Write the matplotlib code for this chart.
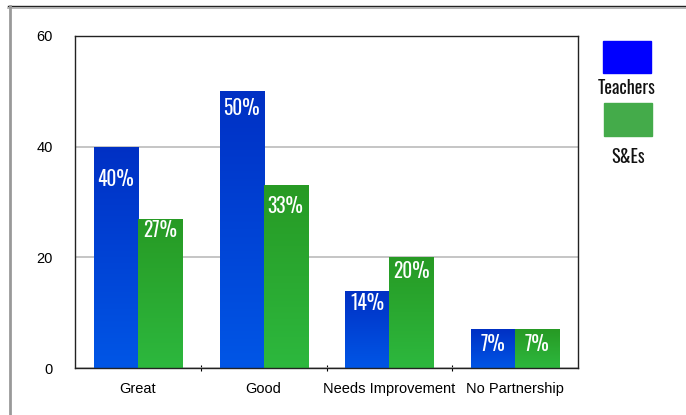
import numpy as np
import matplotlib
matplotlib.use("Agg")
import matplotlib.pyplot as plt
from matplotlib.patches import Rectangle
from matplotlib.lines import Line2D
from matplotlib.colors import LinearSegmentedColormap

categories = ["Great", "Good", "Needs Improvement", "No Partnership"]
teachers = [40, 50, 14, 7]
ses = [27, 33, 20, 7]
series_names = ["Teachers", "S&Es"]
yticks = [0, 20, 40, 60]

W, H = 686, 415
fig = plt.figure(figsize=(W / 100, H / 100), dpi=100)
fig.patch.set_facecolor("white")
ax = fig.add_axes([75 / W, 1 - 368 / H, (578 - 75) / W, (368 - 36) / H])

x = np.arange(len(categories))
bw = 0.35
b1 = ax.bar(x - bw / 2, teachers, bw, color="#0040d8", zorder=2)
b2 = ax.bar(x + bw / 2, ses, bw, color="#2aa830", zorder=2)

cmap_blue = LinearSegmentedColormap.from_list("b", ["#0030c4", "#0056e6"])
cmap_green = LinearSegmentedColormap.from_list("g", ["#279a24", "#2db83e"])
grad = np.linspace(0, 1, 256).reshape(-1, 1)
for bars, cm in ((b1, cmap_blue), (b2, cmap_green)):
    for r in bars:
        x0, y0 = r.get_x(), r.get_y()
        w, h = r.get_width(), r.get_height()
        im = ax.imshow(grad, cmap=cm, aspect="auto", origin="upper",
                       extent=[x0, x0 + w, y0, y0 + h], zorder=2.5)
        im.set_clip_path(r)

ax.set_xlim(-0.5, len(categories) - 0.5)
ax.set_ylim(0, 60)

# value labels (offsets below bar top in points)
lbl_font = ["Oswald", "Barlow Condensed", "DejaVu Sans"]
off_t = [23, 12, 9, 10.5]
off_s = [8, 15, 10, 10.5]
for bars, vals, offs in ((b1, teachers, off_t), (b2, ses, off_s)):
    for r, v, o in zip(bars, vals, offs):
        ax.annotate(f"{v}%", (r.get_x() + r.get_width() / 2, r.get_height()),
                    xytext=(0, -o), textcoords="offset points",
                    ha="center", va="center", color="white", fontsize=14,
                    family=lbl_font, fontweight=400, zorder=5)

ax.set_yticks(yticks)
ax.set_yticklabels([str(t) for t in yticks], fontsize=10.5, family="Liberation Sans")
ax.tick_params(axis="y", length=0, pad=16)
ax.set_xticks(x)
ax.set_xticklabels(categories, fontsize=10.5, family="Liberation Sans")
ax.tick_params(axis="x", length=0, pad=10)
ax.set_xticks(np.arange(len(categories) - 1) + 0.5, minor=True)
ax.tick_params(axis="x", which="minor", length=4, direction="inout", width=0.8)
ax.yaxis.grid(True, color="#bbbbbb", linewidth=1.2, zorder=0)
ax.set_axisbelow(True)
for s in ax.spines.values():
    s.set_color("#222222")
    s.set_linewidth(1.0)

# legend drawn manually
fig.patches.append(Rectangle((603 / W, 1 - 73 / H), 48 / W, 32 / H,
                             transform=fig.transFigure, color="#0000ff"))
fig.patches.append(Rectangle((604 / W, 1 - 136 / H), 48 / W, 33 / H,
                             transform=fig.transFigure, color="#44ab4a"))
fig.text(627 / W, 1 - 88 / H, series_names[0], ha="center", va="center",
         fontsize=13, family=lbl_font, fontweight=400, color="#111111")
fig.text(628 / W, 1 - 157 / H, series_names[1], ha="center", va="center",
         fontsize=13, family=lbl_font, fontweight=400, color="#111111")

# outer frame lines
fig.add_artist(Line2D([8 / W, 1], [1 - 6 / H, 1 - 6 / H], transform=fig.transFigure,
                      color="#222222", linewidth=1.0))
fig.add_artist(Line2D([8 / W, 1], [1 - 8.5 / H, 1 - 8.5 / H], transform=fig.transFigure,
                      color="#aaaaaa", linewidth=1.2))
fig.add_artist(Line2D([10 / W, 10 / W], [0, 1 - 6 / H], transform=fig.transFigure,
                      color="#999999", linewidth=2.0))

fig.savefig("out.png", dpi=100)
